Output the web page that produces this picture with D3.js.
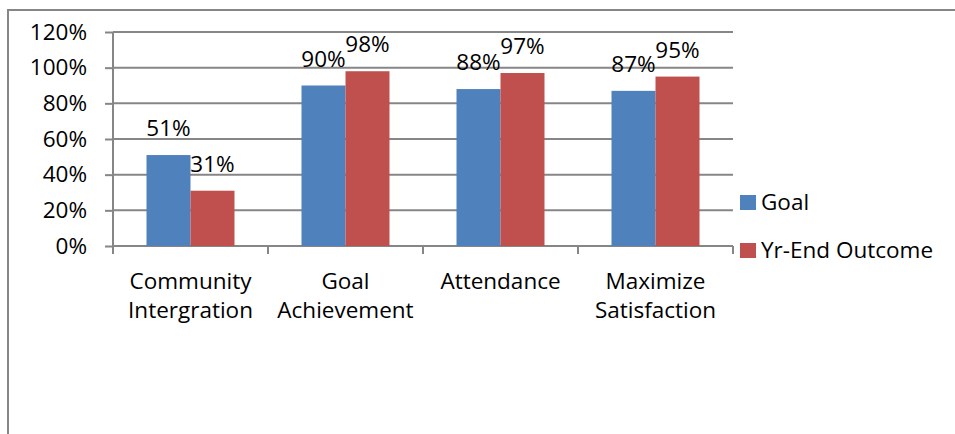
<!DOCTYPE html>
<html><head><meta charset="utf-8">
<script src="https://cdn.jsdelivr.net/npm/d3@7"></script>
<style>body{margin:0;background:#fff}svg{display:block}text{font-family:"Open Sans",sans-serif;fill:#000}</style>
</head><body><svg id="c" width="955" height="434"></svg>
<script>
const categories = [["Community","Intergration"],["Goal","Achievement"],["Attendance"],["Maximize","Satisfaction"]];
const seriesNames = ["Goal","Yr-End Outcome"];
const goalValues = [51,90,88,87];
const outcomeValues = [31,98,97,95];
const yTicks = [0,20,40,60,80,100,120];
const colors = ["#4f81bd","#c0504d"];
const FS = "22.5px";

const svg = d3.select("#c");
const pL = 113, pR = 733, pT = 32, pB = 246;
const x = d3.scaleBand().domain(d3.range(categories.length)).range([pL,pR]).paddingInner(0.4323).paddingOuter(0.2161);
const x1 = d3.scaleBand().domain([0,1]).range([0,x.bandwidth()]);
const y = d3.scaleLinear().domain([0,120]).range([pB,pT]);

svg.append("rect").attr("x",8).attr("y",10).attr("width",960).attr("height",440).attr("fill","none").attr("stroke","#868686").attr("stroke-width",2);

const yAxis = d3.axisLeft(y).tickValues(yTicks).tickFormat(d=>d+"%").tickSize(8).tickPadding(18);
const ga = svg.append("g").attr("transform",`translate(${pL},0)`).call(yAxis);
ga.select(".domain").remove();
ga.selectAll("line").attr("stroke","#868686").attr("stroke-width",2);
ga.selectAll("text").style("font-size",FS).attr("fill","#000");
svg.append("g").selectAll("line").data(yTicks).join("line")
  .attr("x1",pL).attr("x2",pR).attr("y1",d=>y(d)).attr("y2",d=>y(d))
  .attr("stroke","#868686").attr("stroke-width",2);
svg.append("line").attr("x1",pL).attr("x2",pL).attr("y1",pT).attr("y2",pB+8).attr("stroke","#868686").attr("stroke-width",2);

const catEdges = d3.range(categories.length+1).map(i=>pL+i*(pR-pL)/categories.length);
svg.append("g").selectAll("line").data(catEdges).join("line")
  .attr("x1",d=>d).attr("x2",d=>d).attr("y1",pB).attr("y2",pB+8)
  .attr("stroke","#868686").attr("stroke-width",2);

const data = [goalValues,outcomeValues];
data.forEach((vals,s)=>{
  const g = svg.append("g");
  g.selectAll("rect").data(vals).join("rect")
    .attr("x",(d,i)=>x(i)+x1(s)).attr("width",x1.bandwidth())
    .attr("y",d=>y(d)).attr("height",d=>pB-y(d)).attr("fill",colors[s]);
  g.selectAll("text").data(vals).join("text")
    .attr("x",(d,i)=>x(i)+x1(s)+x1.bandwidth()/2).attr("y",d=>y(d)-19)
    .attr("text-anchor","middle").style("font-size",FS).text(d=>d+"%");
});

categories.forEach((lines,i)=>{
  const t = svg.append("text").attr("text-anchor","middle").style("font-size",FS)
    .attr("x",x(i)+x.bandwidth()/2).attr("y",289);
  lines.forEach((l,j)=>t.append("tspan").attr("x",x(i)+x.bandwidth()/2).attr("dy",j?29:0).text(l));
});

seriesNames.forEach((n,s)=>{
  const ly = 195 + s*48;
  svg.append("rect").attr("x",740).attr("y",ly).attr("width",16).attr("height",15).attr("fill",colors[s]);
  svg.append("text").attr("x",761).attr("y",ly+15).style("font-size",FS).text(n);
});
</script></body></html>
